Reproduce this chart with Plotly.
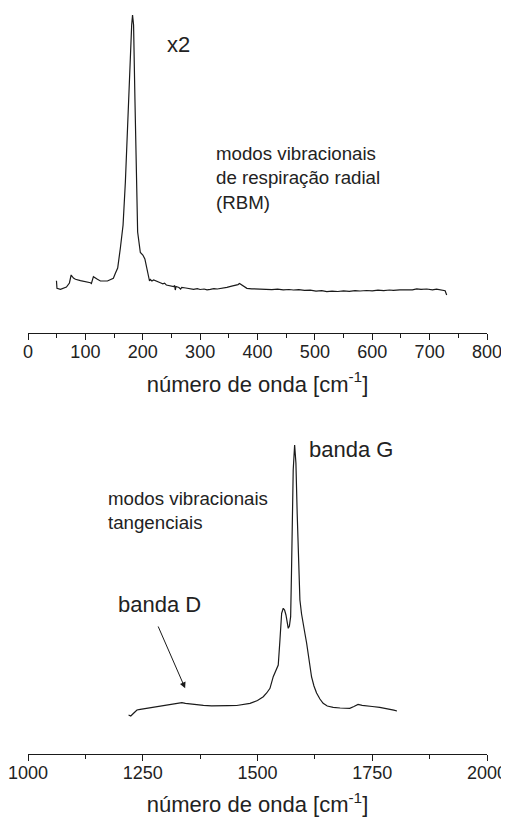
import plotly.graph_objects as go

# ---- Data (intensity in arbitrary units) ----
rbm_wavenumber = [49.6, 50.5, 56.6, 61.8, 67.0, 72.2, 75.2, 79.2, 82.7, 91.4,
                  103.6, 108.8, 110.5, 114.0, 121.0, 126.2, 138.4, 148.8, 152.3,
                  156.3, 161.0, 165.7, 169.7, 173.7, 177.2, 180.7, 182.2, 184.0,
                  186.4, 188.5, 191.1, 195.8, 200.2, 203.7, 207.1, 210.6, 211.8,
                  213.2, 216.0, 219.0, 223.0, 227.0, 230.6, 235.0, 238.0, 241.1,
                  245.0, 249.0, 253.8, 255.5, 256.7, 258.0, 260.2, 263.0, 266.0,
                  268.0, 275.0, 282.0, 288.6, 295.0, 300.0, 307.0, 312.0, 317.7,
                  324.0, 330.0, 337.0, 346.7, 355.0, 362.0, 366.0, 368.7, 371.0,
                  375.0, 381.5, 390.0, 398.0, 404.7, 415.0, 425.0, 435.0, 445.0,
                  455.0, 462.7, 472.0, 482.0, 492.0, 502.0, 512.0, 520.8, 530.0,
                  540.0, 550.0, 560.0, 570.0, 578.8, 590.0, 600.0, 610.0, 620.0,
                  630.0, 636.7, 648.0, 660.0, 670.0, 677.5, 685.0, 695.0, 705.0,
                  712.0, 718.0, 723.8, 727.0, 729.7]
rbm_intensity = [52.3, 44.7, 43.7, 44.7, 46.0, 50.0, 58.0, 55.0, 53.7, 52.3,
                 51.3, 50.3, 49.5, 56.3, 53.7, 52.0, 52.0, 54.7, 59.7,
                 65.0, 85.0, 108.0, 151.0, 213.0, 271.0, 308.0, 318.0, 308.0,
                 233.0, 158.0, 101.0, 80.5, 78.0, 74.0, 66.0, 56.0, 52.0,
                 53.5, 52.0, 53.0, 51.8, 51.0, 50.3, 49.2, 49.8, 48.0,
                 47.6, 47.0, 46.3, 47.5, 43.0, 46.5, 46.0, 45.5, 44.0,
                 45.6, 45.0, 44.2, 43.7, 44.3, 43.5, 44.0, 43.2, 43.7,
                 44.4, 44.0, 45.0, 45.7, 46.8, 47.6, 48.4, 49.5, 48.6,
                 46.5, 44.7, 44.2, 44.0, 43.7, 43.9, 43.4, 43.8, 43.2,
                 43.5, 43.0, 43.3, 42.6, 42.9, 41.9, 42.3, 41.3, 41.8,
                 41.5, 42.2, 41.7, 42.4, 42.0, 42.5, 42.1, 42.8, 42.4,
                 43.0, 42.7, 43.2, 43.5, 43.1, 44.2, 43.6, 44.0, 43.2,
                 43.8, 42.9, 42.8, 42.3, 38.0]

tang_wavenumber = [1219.1, 1223.9, 1230.0, 1237.4, 1244.6, 1258.0, 1273.5, 1290.0,
                   1309.8, 1322.0, 1335.2, 1343.0, 1353.3, 1368.0, 1382.2, 1400.0,
                   1418.5, 1436.0, 1454.8, 1470.0, 1483.7, 1500.0, 1512.6, 1520.0,
                   1527.2, 1534.3, 1540.0, 1545.2, 1548.9, 1552.6, 1556.1, 1559.0,
                   1562.0, 1565.0, 1567.0, 1569.5, 1572.2, 1574.0, 1575.5, 1577.8,
                   1580.9, 1583.7, 1586.5, 1589.5, 1592.4, 1596.0, 1599.6, 1603.5,
                   1607.0, 1612.0, 1617.8, 1623.0, 1628.7, 1636.0, 1643.0, 1652.0,
                   1664.8, 1680.0, 1701.1, 1710.0, 1719.1, 1728.0, 1737.4, 1750.0,
                   1766.3, 1778.0, 1788.0, 1797.0, 1803.9]
tang_intensity = [39.0, 38.0, 40.7, 44.0, 44.7, 45.6, 46.7, 47.8,
                  49.0, 50.0, 51.3, 50.6, 50.0, 49.2, 48.7, 48.2,
                  48.0, 48.3, 48.5, 49.4, 50.7, 53.5, 57.3, 61.0,
                  65.7, 77.3, 83.0, 89.0, 114.0, 140.7, 145.7, 144.0,
                  139.0, 131.0, 125.7, 128.0, 137.3, 180.0, 230.0, 284.0,
                  309.0, 291.0, 240.0, 185.0, 154.0, 140.0, 132.0, 120.0,
                  111.0, 93.0, 77.0, 68.0, 61.0, 55.0, 50.7, 48.0,
                  46.7, 46.0, 45.7, 47.5, 49.5, 48.7, 48.0, 47.5,
                  46.7, 45.8, 44.7, 43.8, 43.0]

top_ticks = [0, 100, 200, 300, 400, 500, 600, 700, 800]
bottom_ticks = [1000, 1250, 1500, 1750, 2000]
axis_title = "número de onda [cm<sup>-1</sup>]"

FONT = "Liberation Sans, Arial, sans-serif"
TXT = "#222222"
LINE = "#1a1a1a"

fig = go.Figure()
fig.add_trace(go.Scatter(x=rbm_wavenumber, y=rbm_intensity, mode="lines",
                         line=dict(color=LINE, width=1.2),
                         xaxis="x", yaxis="y", showlegend=False))
fig.add_trace(go.Scatter(x=tang_wavenumber, y=tang_intensity, mode="lines",
                         line=dict(color=LINE, width=1.2),
                         xaxis="x2", yaxis="y2", showlegend=False))

common_x = dict(showline=True, linecolor=LINE, linewidth=1,
                ticks="outside", ticklen=6, tickwidth=1, tickcolor=LINE,
                showgrid=False, zeroline=False, automargin=False,
                ticklabeloverflow="allow", ticklabelstandoff=-4,
                tickfont=dict(family=FONT, size=18, color=TXT),
                title=dict(text=axis_title, font=dict(family=FONT, size=22, color=TXT),
                           standoff=15))

# the page body adds an 8px offset, so the figure is 8px smaller than the window
fig.update_layout(
    width=501, height=810,
    margin=dict(l=19.5, r=22, t=0, b=64),
    paper_bgcolor="white", plot_bgcolor="white",
    font=dict(family=FONT, color=TXT),
    xaxis=dict(domain=[0, 1], anchor="y", range=[0, 800], tickvals=top_ticks,
               minor=dict(ticks="outside", ticklen=4, dtick=50, tick0=0,
                          tickcolor=LINE),
               **common_x),
    yaxis=dict(domain=[0.56434, 1.0], range=[0, 325], visible=False),
    xaxis2=dict(domain=[0, 1], anchor="y2", range=[1000, 2000], tickvals=bottom_ticks,
                minor=dict(ticks="outside", ticklen=4, dtick=125, tick0=1000,
                           tickcolor=LINE),
                **common_x),
    yaxis2=dict(domain=[0, 0.43432], range=[0, 324], visible=False),
)

ann = [
    dict(text="x2", x=239.3, y=289, xref="x", yref="y", xanchor="left",
         yanchor="middle", showarrow=False, font=dict(family=FONT, size=22, color=TXT)),
    dict(text="modos vibracionais<br>de respiração radial<br>(RBM)", x=325, y=155,
         xref="x", yref="y", xanchor="left", yanchor="middle", align="left",
         showarrow=False, font=dict(family=FONT, size=18.7, color=TXT)),
    dict(text="banda G", x=1608.3, y=304, xref="x2", yref="y2", xanchor="left",
         yanchor="middle", showarrow=False, font=dict(family=FONT, size=22, color=TXT)),
    dict(text="banda D", x=1192.4, y=149, xref="x2", yref="y2", xanchor="left",
         yanchor="middle", showarrow=False, font=dict(family=FONT, size=22, color=TXT)),
    dict(text="modos vibracionais<br>tangenciais", x=1170.7, y=243, xref="x2", yref="y2",
         xanchor="left", yanchor="middle", align="left", showarrow=False,
         font=dict(family=FONT, size=18.7, color=TXT)),
    dict(text="", x=1342.4, y=65.7, ax=1282.2, ay=129, xref="x2", yref="y2",
         axref="x2", ayref="y2", showarrow=True, arrowhead=2, arrowsize=1.2,
         arrowwidth=1, arrowcolor=LINE, standoff=0, startstandoff=0),
]
fig.update_layout(annotations=ann)

fig.write_html("out.html")
